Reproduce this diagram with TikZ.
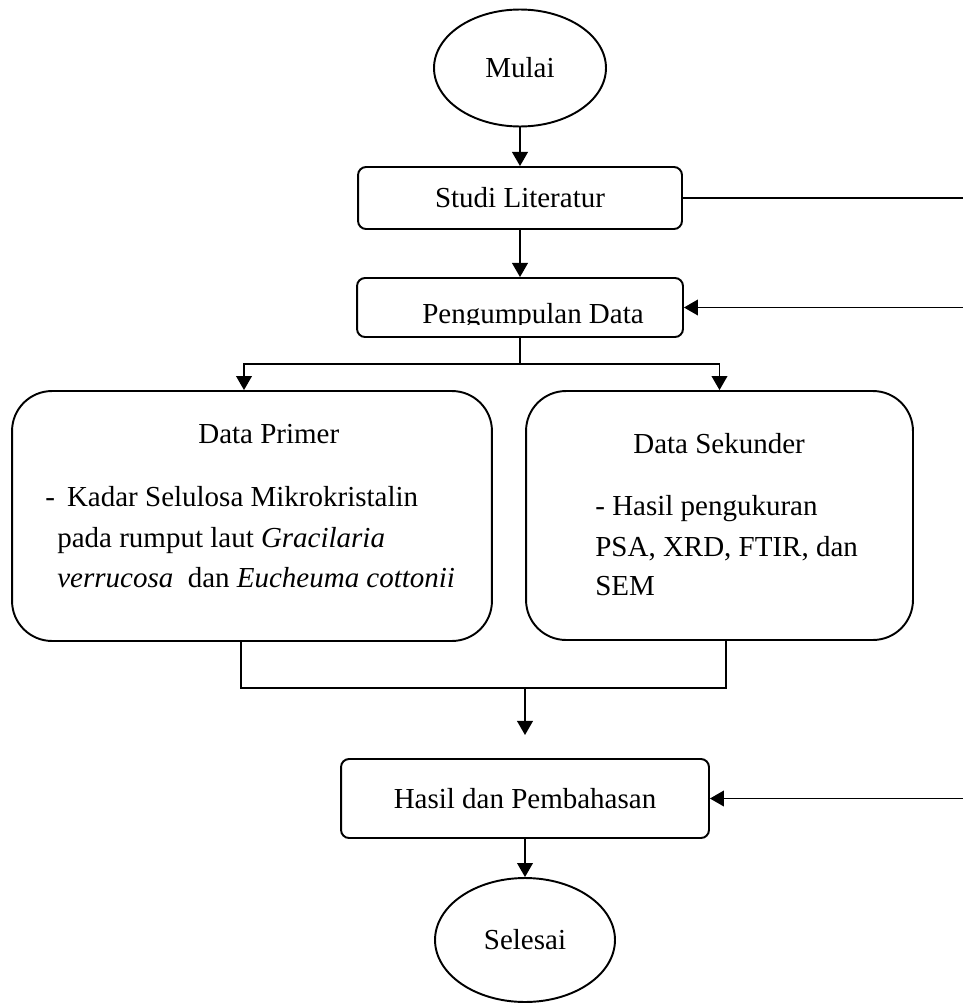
\documentclass[tikz,border=0pt]{standalone}
\usepackage{fontspec}
\setmainfont{Liberation Serif}
\usetikzlibrary{positioning,shapes.geometric,arrows.meta,calc}

\tikzset{
	flowbox/.style={draw, line width=1.1pt, rounded corners=0.16cm, inner sep=0pt},
	databox/.style={draw, line width=1.1pt, rounded corners=0.8cm, inner sep=0pt},
	terminal/.style={draw, ellipse, line width=1.1pt, inner sep=0pt},
	flowline/.style={line width=0.75pt},
	flowarrow/.style={flowline, -{Triangle[length=8pt,width=9pt]}},
	bodytext/.style={anchor=base west, inner sep=0pt}
}

\begin{document}
\begin{tikzpicture}[x=0.02cm, y=-0.02cm, every node/.style={font=\fontsize{16.5}{20}\selectfont}]
	\useasboundingbox (0,0) rectangle (963,1004);

	% start, literature and data collection
	\node[terminal, minimum width=3.44cm, minimum height=2.34cm] (mulai) at (520,68) {Mulai};
	\node[flowbox, minimum width=6.48cm, minimum height=1.24cm] (studi) at (520,198) {Studi Literatur};
	\node[flowbox, minimum width=6.52cm, minimum height=1.18cm] (pengumpulan) at (520,307.5) {};
	\begin{scope}
	\clip (356,278) rectangle (684,324);
	\node[anchor=base, inner sep=0pt] (pengumpulanText) at (533,323) {Pengumpulan Data};
	\end{scope}

	% the two data boxes
	\node[databox, minimum width=9.6cm, minimum height=5cm] (primer) at (252,516) {};
	\node[databox, minimum width=7.74cm, minimum height=4.98cm] (sekunder) at (719.5,515.5) {};

	\node[bodytext] (primerTitle) at (198,443) {Data Primer};
	\node[bodytext] (primerLineA) at (45,506) {- \,Kadar Selulosa Mikrokristalin};
	\node[bodytext] (primerLineB) at (57,547) {pada rumput laut \textit{Gracilaria}};
	\node[bodytext] (primerLineC) at (57,587) {\textit{verrucosa}\ \ dan \textit{Eucheuma cottonii}};

	\node[bodytext] (sekunderTitle) at (633,453) {Data Sekunder};
	\node[bodytext] (sekunderLineA) at (595,515) {- Hasil pengukuran};
	\node[bodytext] (sekunderLineB) at (595,556) {PSA, XRD, FTIR, dan};
	\node[bodytext] (sekunderLineC) at (595,595) {SEM};

	% results and end
	\node[flowbox, minimum width=7.36cm, minimum height=1.58cm] (hasil) at (525,798.5) {Hasil dan Pembahasan};
	\node[terminal, minimum width=3.6cm, minimum height=2.48cm] (selesai) at (525,940) {Selesai};

	\coordinate (edgeStudi) at (963,198);
	\coordinate (edgeData) at (963,307.5);
	\coordinate (edgeHasil) at (963,798.5);
	\coordinate (fork) at ($(pengumpulan.south)+(0,26)$);
	\coordinate (primerIn) at ($(primer.north)+(-8,0)$);
	\coordinate (primerOut) at ($(primer.south)+(-11,0)$);
	\coordinate (sekunderOut) at ($(sekunder.south)+(6.5,0)$);
	\coordinate (merge) at (525,688);
	\coordinate (mergeEnd) at (525,735);

	\draw[flowarrow] (mulai) -- (studi);
	\draw[flowarrow] (studi) -- (pengumpulan);
	\draw[flowline] (studi.east) -- (edgeStudi);
	\draw[flowarrow] (edgeData) -- (pengumpulan.east);
	\draw[flowline] (pengumpulan.south) -- (fork);
	\draw[flowarrow] (fork) -| (primerIn);
	\draw[flowarrow] (fork) -| (sekunder.north);
	\draw[flowline] (primerOut) |- (merge) -| (sekunderOut);
	\draw[flowarrow] (merge) -- (mergeEnd);
	\draw[flowarrow] (edgeHasil) -- (hasil.east);
	\draw[flowarrow] (hasil) -- (selesai);
\end{tikzpicture}
\end{document}
